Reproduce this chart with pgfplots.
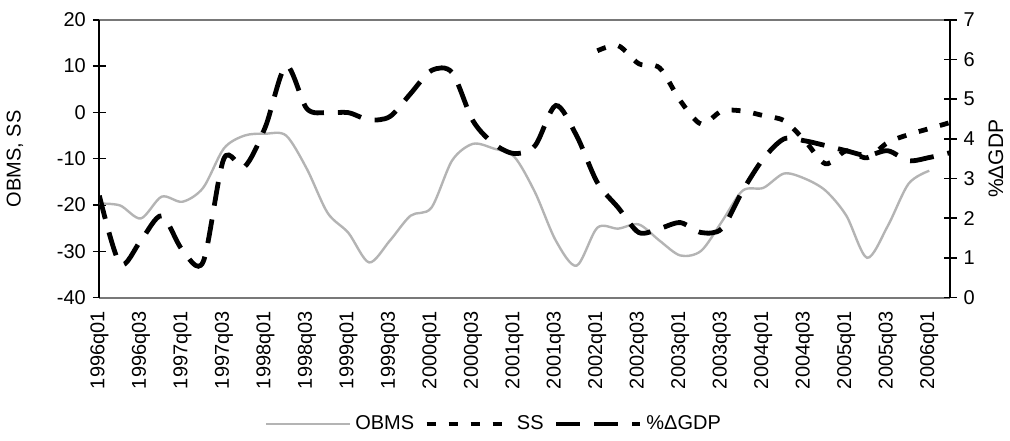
\documentclass[border=0pt]{standalone}
\usepackage{pgfplots}
\pgfplotsset{compat=1.18}
\usepackage{fontspec}
\setmainfont{Liberation Sans}
\definecolor{obms}{RGB}{180,180,180}
\definecolor{axgray}{RGB}{120,120,120}
\tikzset{
  obmsstyle/.style={obms, line width=1.2pt},
  ssstyle/.style={black, line width=2.4pt, dash pattern=on 4.5pt off 6.5pt},
  gdpstyle/.style={black, line width=2.4pt, dash pattern=on 12pt off 7pt},
}
\begin{document}
\begin{tikzpicture}[font=\fontsize{10}{12}\selectfont]
\begin{axis}[
  scale only axis, width=425.5pt, height=139pt,
  xmin=0, xmax=41, ymin=-40, ymax=20,
  ytick={-40,-30,...,20},
  xtick={0,2,...,40},
  xticklabels={1996q01,1996q03,1997q01,1997q03,1998q01,1998q03,1999q01,1999q03,2000q01,2000q03,2001q01,2001q03,2002q01,2002q03,2003q01,2003q03,2004q01,2004q03,2005q01,2005q03,2006q01},
  x tick label style={rotate=90, anchor=east},
  ytick pos=left, xtick pos=bottom,
  tick align=center, major tick length=6.5pt,
  x tick style={draw=none},
  y tick style={black, line width=0.8pt},
  separate axis lines,
  x axis line style={axgray, line width=0.9pt},
  y axis line style={black, line width=1pt},
  ylabel={OBMS, SS},
  ylabel style={yshift=10pt, font=\fontsize{10}{12}\selectfont},
  /pgf/number format/assume math mode=true,
  tick label style={font=\fontsize{10}{12}\selectfont},
]
\addplot[obmsstyle, smooth, tension=0.5] coordinates {
(0,-19.7)(1,-20.1)(2,-22.9)(3,-18.2)(4,-19.3)(5,-16.3)(6,-7.8)(7,-5.0)(8,-4.6)(9,-5.0)
(10,-12.2)(11,-21.7)(12,-26.0)(13,-32.4)(14,-27.7)(15,-22.3)(16,-20.6)(17,-10.4)(18,-6.8)(19,-7.8)
(20,-9.6)(21,-17.3)(22,-27.7)(23,-33.1)(24,-24.9)(25,-25.1)(26,-24.2)(27,-27.7)(28,-30.9)(29,-29.9)
(30,-23.6)(31,-16.9)(32,-16.3)(33,-13.2)(34,-14.3)(35,-16.9)(36,-22.3)(37,-31.4)(38,-24.5)(39,-15.4)(40,-12.6)};
\addplot[ssstyle, smooth, tension=0.5] coordinates {
(24,13.3)(25,14.4)(26,10.5)(27,9.6)(28,2.5)(29,-2.5)(30,0.3)(31,0.3)(32,-0.7)(33,-1.8)
(34,-6.1)(35,-11.1)(36,-8.3)(37,-9.8)(38,-6.5)(39,-4.8)(40,-3.5)(41,-2.2)};
\end{axis}
\begin{axis}[
  scale only axis, width=425.5pt, height=139pt,
  xmin=0, xmax=41, ymin=0, ymax=7,
  ytick={0,1,...,7},
  axis x line=none,
  axis y line*=right,
  tick align=center, major tick length=6.5pt,
  y tick style={black, line width=0.8pt},
  y axis line style={black, line width=1pt, -},
  ylabel={\%ΔGDP},
  ylabel style={font=\fontsize{10.5}{12}\selectfont},
  /pgf/number format/assume math mode=true,
  tick label style={font=\fontsize{10}{12}\selectfont},
  legend style={at={(axis description cs:0.465,-0.455)}, anchor=center, draw=none,
    legend columns=-1, font=\fontsize{10}{12}\selectfont,
    /tikz/every even column/.append style={column sep=3pt}},
  legend image code/.code={\draw[#1] (0pt,0pt) -- (42pt,0pt);},
]
\addlegendimage{obmsstyle}\addlegendentry{OBMS}
\addlegendimage{ssstyle}\addlegendentry{SS}
\addplot[gdpstyle, smooth, tension=0.5] coordinates {
(0,2.57)(1,0.85)(2,1.44)(3,2.06)(4,1.2)(5,0.9)(6,3.5)(7,3.3)(8,4.3)(9,5.84)
(10,4.76)(11,4.66)(12,4.66)(13,4.48)(14,4.56)(15,5.14)(16,5.72)(17,5.67)(18,4.46)(19,3.88)
(20,3.63)(21,3.83)(22,4.84)(23,4.08)(24,2.90)(25,2.27)(26,1.64)(27,1.74)(28,1.89)(29,1.64)
(30,1.74)(31,2.69)(32,3.5)(33,4.0)(34,3.95)(35,3.83)(36,3.70)(37,3.58)(38,3.70)(39,3.45)
(40,3.53)(41,3.65)};
\addlegendentry{\%ΔGDP}
\end{axis}
\path ([yshift=3pt]current bounding box.north);
\end{tikzpicture}
\end{document}
